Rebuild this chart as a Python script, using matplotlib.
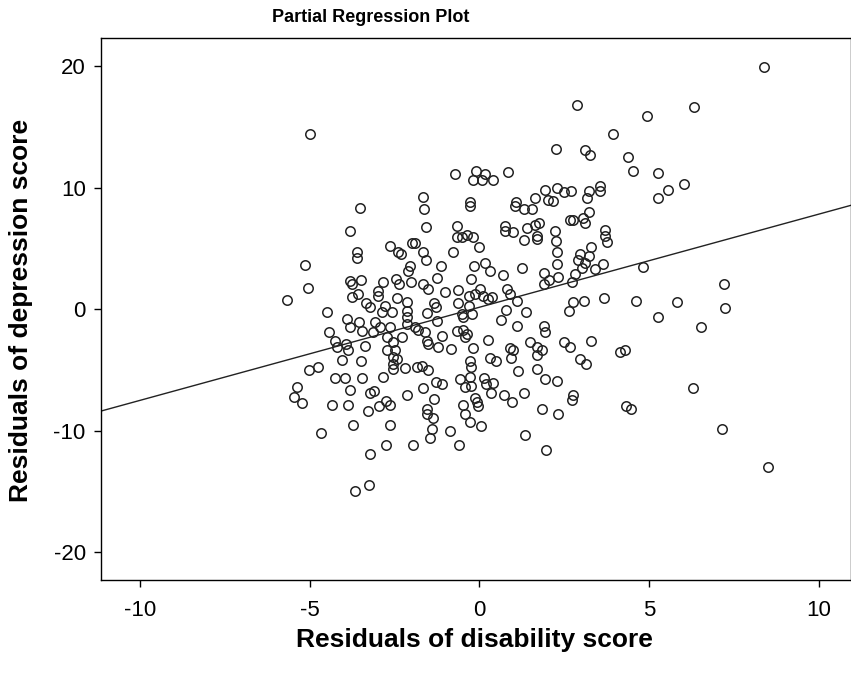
import matplotlib
matplotlib.use("Agg")
import matplotlib.pyplot as plt
import numpy as np

# residuals (x = disability, y = depression)
x_res = [
    8.38, -4.99, 2.87, 4.94, 6.31, 3.93, 2.26, 3.10, 3.27, 4.37, 4.54, 5.25, 6.02, 5.56, 5.25,
    2.28, 2.48, 2.69, 3.56, 3.56, 3.22, 3.17, 2.18,
    -0.72, -0.11, 0.17, -0.18, 0.07, 0.41, 0.83, -1.67, -0.27, 1.08, 1.64, 1.94, 2.03,
    -3.52, -3.81, -2.63, -2.39, -2.30, -2.00, -3.62, -3.60, -5.14, -5.04, -5.68, -2.04, -2.09,
    -2.03, -3.80, -3.74, -3.50, -2.83, -2.46, -2.36, -2.98, -2.98, -3.57, -3.75, -2.44, -2.14,
    -3.34, -3.21, -2.78, -2.88, -2.59, -2.14, -2.14, -4.48, -3.89, -3.81, -3.54, -3.47, -3.08,
    -3.13, -2.93, -2.63, -2.73, -2.54, -2.29, -2.14, -4.42, -4.26, -4.21, -3.93, -3.86, -3.37,
    -2.73, -2.49,
    -1.63, -0.27, -1.57, -0.67, -0.67, -0.52, -0.37, -0.18, 0.00, -0.79, -1.90, -1.65, -1.57,
    -1.14, -1.26, -1.65, -1.50, -1.01, -0.16, 0.17, 0.32, 0.69, 1.25, -0.26, -0.62, -0.32,
    -0.13, 0.02, 0.12, 0.24, 0.36, 0.81, 0.90, 1.12, -0.62, -0.32, -1.34, -1.28, -1.53, -0.52,
    -0.47, -0.23, 0.79, 1.38, 0.63, 1.10, -1.26, -1.90, -1.80, -1.60, -0.67, -0.47, -0.37,
    -0.42, -1.11, -1.55, -1.50, -1.21, 0.24, -0.20, -0.85, 1.50, 1.89, 1.94, 0.90, 1.00, 1.69,
    1.84, 1.30, 1.54, 1.05, 0.76, 0.76, 1.00, 1.40, 1.64, 1.77, 1.69, 1.69, 1.30, 1.89, 1.89,
    2.06,
    3.24, 2.68, 2.77, 3.05, 3.12, 3.70, 3.70, 3.76, 2.23, 2.26, 2.30, 3.28, 2.97, 3.22, 2.92,
    3.12, 3.02, 3.41, 3.64, 2.82, 2.28, 2.33, 2.72, 4.82, 2.75, 2.63, 3.09, 3.68, 4.62, 5.82,
    5.26, 2.48, 2.68, 3.28, 4.15, 4.30,
    7.20, 7.25, 6.53,
    -5.01, -4.75, -4.06, -3.50, -4.26, -3.96, -3.47, -2.85, -2.54, -2.42, -2.54, -2.56, -2.19,
    -5.37, -5.47, -5.24, -3.80, -3.22, -3.10, -4.33, -3.86, -3.27, -2.95, -2.75, -2.62, -2.12,
    -3.72, -2.63, -4.68, -2.75, -1.97, -3.21, -3.24, -3.67,
    -1.85, -1.70, -1.50, -1.67, -1.28, -1.11, -1.34, -1.55, -1.55, -1.36, -1.40, -1.47, -0.88,
    -0.59, -0.27, -0.26, -0.29, -0.57, -0.42, -0.26, -0.49, -0.42, -0.27, 0.05, -0.13, -0.08,
    -0.03, 0.14, 0.20, 0.39, 0.33, 0.30, 0.49, 0.92, 0.73, 0.95, 1.32, 1.13, 1.69, 1.71, 1.94,
    1.84, 1.35, 1.97,
    2.95, 3.15, 2.30, 2.77, 2.72, 2.33, 4.33, 4.46, 6.29,
    7.15, 8.50,
]
y_res = [
    19.9, 14.4, 16.8, 15.9, 16.6, 14.4, 13.2, 13.1, 12.7, 12.5, 11.4, 11.2, 10.3, 9.8, 9.1,
    10.0, 9.6, 9.7, 10.1, 9.7, 9.7, 9.1, 8.9,
    11.1, 11.4, 11.1, 10.6, 10.6, 10.6, 11.3, 9.26, 8.8, 8.8, 9.1, 9.8, 9.0,
    8.3, 6.4, 5.2, 4.66, 4.55, 5.4, 4.7, 4.2, 3.6, 1.7, 0.77, 3.56, 3.15,
    2.19, 2.33, 2.05, 2.38, 2.25, 2.47, 2.1, 1.5, 1.1, 1.23, 1.0, 0.88, 0.55,
    0.47, 0.14, 0.27, -0.27, -0.27, -0.14, -0.68, -0.22, -0.82, -1.45, -1.1, -1.78, -1.1,
    -1.92, -1.5, -1.45, -2.3, -2.74, -2.33, -1.23, -1.9, -2.66, -3.1, -2.88, -3.4, -3.0,
    -3.4, -3.4,
    8.2, 8.5, 6.76, 6.85, 5.9, 5.9, 6.1, 5.95, 5.1, 4.7, 5.4, 4.7, 4.0,
    3.56, 2.55, 2.1, 1.64, 1.37, 3.56, 3.83, 3.15, 2.82, 3.37, 2.47, 1.56, 1.1,
    1.23, 1.64, 1.1, 0.82, 0.96, 1.64, 1.23, 0.63, 0.47, 0.27, 0.47, 0.19, -0.35, -0.41,
    -0.68, -0.41, -0.08, -0.27, -0.9, -1.37, -0.96, -1.5, -1.73, -1.92, -1.78, -1.73, -2.05,
    -2.33, -2.19, -2.6, -2.88, -3.1, -2.55, -3.2, -3.3, -2.74, -1.37, -1.92, -3.2, -3.37, -3.15,
    -3.4, 8.2, 8.2, 8.5, 6.85, 6.4, 6.36, 6.7, 6.93, 7.1, 6.0, 5.75, 5.67, 3.0, 2.1,
    2.38,
    8.0, 7.3, 7.3, 7.5, 7.1, 6.5, 6.0, 5.5, 6.4, 5.6, 4.7, 5.1, 4.5, 4.4, 4.0,
    3.8, 3.4, 3.3, 3.7, 2.9, 3.7, 2.66, 2.19, 3.5, 0.55, -0.19, 0.68, 0.88, 0.68, 0.6,
    -0.68, -2.74, -3.15, -2.6, -3.5, -3.37,
    2.05, 0.05, -1.45,
    -4.98, -4.8, -4.2, -4.3, -5.7, -5.7, -5.67, -5.56, -3.97, -4.1, -4.5, -4.9, -4.85,
    -6.4, -7.26, -7.75, -6.66, -6.93, -6.77, -7.9, -7.86, -8.35, -8.0, -7.6, -7.86, -7.1,
    -9.5, -9.5, -10.2, -11.2, -11.2, -11.9, -14.5, -15.0,
    -4.74, -4.66, -5.0, -6.5, -6.0, -6.16, -7.4, -8.2, -8.6, -8.96, -9.9, -10.6, -10.0,
    -11.2, -4.3, -4.74, -5.56, -5.75, -6.4, -6.3, -7.9, -8.6, -9.3, -9.6, -7.3, -7.67,
    -8.0, -5.67, -6.16, -6.1, -6.9, -4.0, -4.25, -4.0, -7.04, -7.67, -6.93, -5.1, -4.93, -3.78, -5.75,
    -8.2, -10.4, -11.6,
    -4.1, -4.5, -5.9, -7.1, -7.5, -8.6, -8.0, -8.2, -6.5,
    -9.86, -13.0,
]

# fit line (slope/intercept)
fit_slope = 0.766
fit_intercept = 0.15

x_ticks = [-10, -5, 0, 5, 10]
y_ticks = [-20, -10, 0, 10, 20]

plt.rcParams["font.family"] = ["Liberation Sans", "DejaVu Sans"]
plt.rcParams["axes.unicode_minus"] = False

fig = plt.figure(figsize=(8.51, 6.73), dpi=100)
ax = fig.add_axes([0.1187, 0.138, 0.8813, 0.8055])

ax.plot(x_res, y_res, linestyle="none", marker="o", markersize=6.8,
        markerfacecolor="none", markeredgecolor="#222222", markeredgewidth=1.1)

xlim = (-11.15, 10.95)
xs = np.array(xlim)
ax.plot(xs, fit_intercept + fit_slope * xs, color="#222222", lw=1.0)

ax.set_xlim(*xlim)
ax.set_ylim(-22.3, 22.3)
ax.set_xticks(x_ticks)
ax.set_yticks(y_ticks)
ax.tick_params(direction="out", length=5, width=1, labelsize=16, colors="black")
ax.tick_params(axis="x", pad=9)
ax.tick_params(axis="y", pad=6)
for s in ax.spines.values():
    s.set_linewidth(1.0)
    s.set_color("black")

fig.text(0.558, 1 - 640 / 673, "Residuals of disability score", ha="center", va="center",
         fontsize=19, fontweight="bold")
fig.text(0.025, 1 - 310 / 673, "Residuals of depression score", ha="center", va="center",
         rotation=90, fontsize=19, fontweight="bold")
fig.text(0.436, 1 - 18 / 673, "Partial Regression Plot", ha="center", va="center",
         fontsize=13, fontweight="bold")

fig.savefig("out.png", dpi=100, facecolor="white")
